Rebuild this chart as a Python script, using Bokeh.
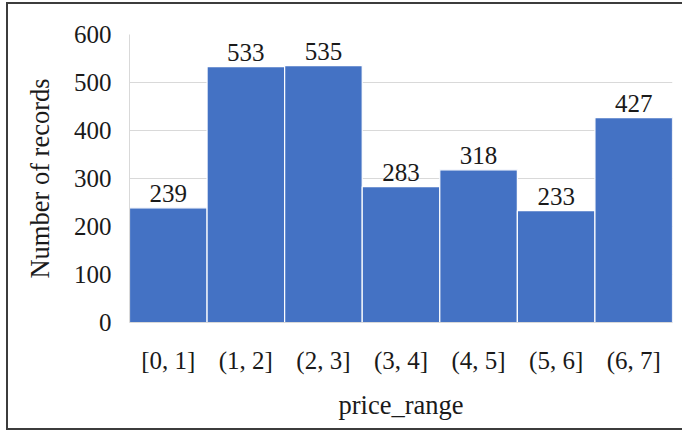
from bokeh.plotting import figure
from bokeh.models import ColumnDataSource, FactorRange, Range1d, FixedTicker
from bokeh.core.properties import value
from bokeh.embed import file_html
from bokeh.resources import INLINE

categories = ["[0, 1]", "(1, 2]", "(2, 3]", "(3, 4]", "(4, 5]", "(5, 6]", "(6, 7]"]
counts = [239, 533, 535, 283, 318, 233, 427]
y_ticks = [0, 100, 200, 300, 400, 500, 600]

FONT = "Liberation Serif"
TXT = "#1a1a1a"

src = ColumnDataSource(dict(cat=categories, n=counts, lbl=[str(c) for c in counts]))

p = figure(
    x_range=FactorRange(*categories, range_padding=0),
    y_range=Range1d(0, 600),
    width=676, height=428,
    output_backend="svg", toolbar_location=None,
    min_border_left=121, min_border_right=12,
    min_border_top=30, min_border_bottom=110,
)
p.styles = {
    "margin-left": "6px", "margin-top": "2px",
    "border-left": "2px solid #3c3c3c",
    "border-top": "2px solid #3c3c3c",
    "border-bottom": "2px solid #3c3c3c",
}
p.outline_line_color = None
p.background_fill_color = "white"
p.border_fill_color = "white"

p.vbar(x="cat", top="n", width=1.0, source=src,
       fill_color="#4472C4", line_color="white", line_width=1.2)

p.text(x="cat", y="n", text="lbl", source=src,
       text_font=value(FONT), text_font_size="25px", text_color=TXT,
       text_align="center", text_baseline="bottom", y_offset=-6)

p.xgrid.grid_line_color = None
p.ygrid.grid_line_color = "#d9d9d9"
p.ygrid.grid_line_width = 1

p.yaxis.ticker = FixedTicker(ticks=y_ticks)
for ax in (p.xaxis[0], p.yaxis[0]):
    ax.major_tick_line_color = None
    ax.minor_tick_line_color = None
    ax.axis_line_color = "#d9d9d9"
    ax.major_label_text_font = FONT
    ax.major_label_text_font_size = "25px"
    ax.major_label_text_color = TXT
    ax.axis_label_text_font = FONT
    ax.axis_label_text_font_size = "26.5px"
    ax.axis_label_text_font_style = "normal"
    ax.axis_label_text_color = TXT

p.yaxis.axis_label = "Number of records"
p.xaxis.axis_label = "price_range"
p.yaxis.major_label_standoff = 12
p.xaxis.major_label_standoff = 18
p.yaxis.axis_label_standoff = 16
p.xaxis.axis_label_standoff = 13

open("out.html", "w").write(file_html(p, INLINE))
